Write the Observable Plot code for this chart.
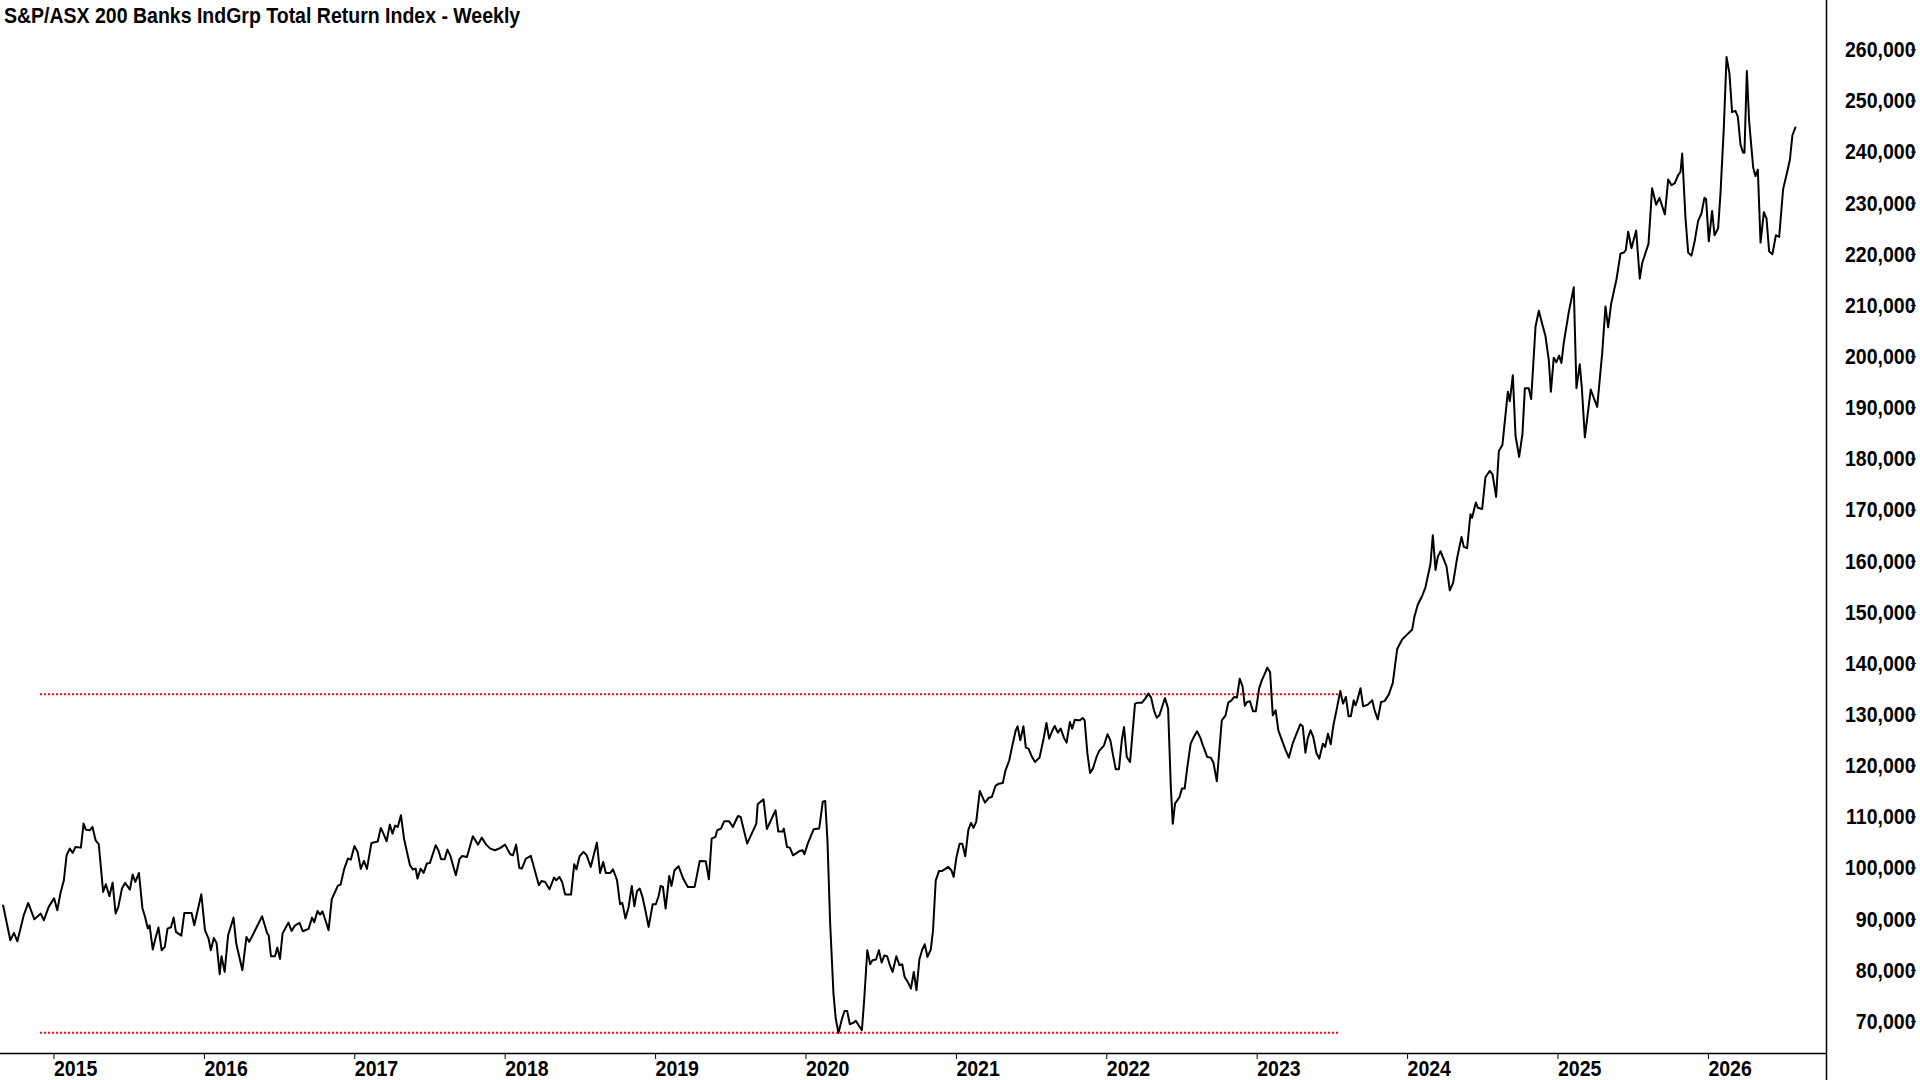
<!DOCTYPE html>
<html>
<head>
<meta charset="utf-8">
<script src="https://cdn.jsdelivr.net/npm/d3@7"></script>
<script src="https://cdn.jsdelivr.net/npm/@observablehq/plot@0.6"></script>
<style>
  html, body { margin: 0; padding: 0; background: #fff; }
  #wrap { position: relative; width: 1920px; height: 1080px; overflow: hidden; }
  #title { position: absolute; left: 4px; top: 4px; line-height: 1; font-size: 19.5px; font-weight: bold;
           font-family: 'Liberation Sans', Arial, sans-serif; color: #000; white-space: nowrap; z-index: 2;
           transform: scale(1, 1.17); transform-origin: 0 0; }
  #chart { position: absolute; left: 0; top: 0; }
</style>
</head>
<body>
<div id="wrap">
  <div id="title">S&amp;P/ASX 200 Banks IndGrp Total Return Index - Weekly</div>
  <div id="chart"></div>
</div>
<script>
// Weekly closes, [decimal year, index level in thousands]
const seg2014to2019 = [
[2014.675,92.67],[2014.723,85.89],[2014.747,87.32],[2014.770,85.69],[2014.812,90.78],[2014.842,93.19],[2014.883,89.99],[2014.925,91.10],[2014.946,89.80],[2014.978,92.41],
[2015.014,94.10],[2015.035,91.75],[2015.058,95.34],[2015.079,97.62],[2015.097,102.50],[2015.118,103.81],[2015.138,102.96],[2015.156,104.13],[2015.192,104.00],[2015.210,108.70],
[2015.225,107.52],[2015.251,107.39],[2015.269,108.04],[2015.290,105.44],[2015.311,104.66],[2015.340,95.34],[2015.358,96.84],[2015.382,94.49],[2015.403,97.16],[2015.423,91.10],
[2015.441,92.41],[2015.465,95.99],[2015.486,97.10],[2015.518,95.79],[2015.536,98.73],[2015.554,97.29],[2015.578,99.05],[2015.601,92.21],[2015.619,90.45],[2015.637,88.17],
[2015.649,88.82],[2015.670,84.07],[2015.690,86.54],[2015.708,88.37],[2015.729,83.94],[2015.750,84.59],[2015.768,88.17],[2015.791,88.43],[2015.809,90.32],[2015.824,87.52],
[2015.860,86.80],[2015.880,91.23],[2015.928,91.23],[2015.946,88.82],[2015.993,94.88],[2016.017,87.85],[2016.041,86.22],[2016.056,83.94],[2016.076,86.35],[2016.094,85.37],
[2016.115,79.24],[2016.127,82.76],[2016.148,79.70],[2016.171,86.87],[2016.207,90.32],[2016.225,85.24],[2016.266,80.03],[2016.293,86.54],[2016.311,85.57],[2016.334,86.87],
[2016.397,90.58],[2016.430,87.32],[2016.441,86.80],[2016.456,82.76],[2016.483,82.76],[2016.498,84.46],[2016.516,82.24],[2016.533,87.19],[2016.572,89.34],[2016.593,87.72],
[2016.617,88.82],[2016.646,89.28],[2016.667,87.65],[2016.706,88.11],[2016.729,90.32],[2016.744,89.41],[2016.765,91.62],[2016.783,90.91],[2016.798,91.56],[2016.818,89.80],
[2016.839,87.85],[2016.860,93.90],[2016.901,96.58],[2016.919,96.77],[2016.943,99.84],[2016.967,101.86],[2016.987,101.66],[2017.011,104.33],[2017.032,103.16],[2017.053,99.84],
[2017.074,101.40],[2017.094,99.84],[2017.124,104.92],[2017.166,105.18],[2017.186,107.85],[2017.204,106.74],[2017.225,105.24],[2017.246,108.50],[2017.264,106.74],[2017.281,108.31],
[2017.299,108.04],[2017.320,110.33],[2017.341,105.70],[2017.380,100.55],[2017.400,99.71],[2017.418,99.90],[2017.430,97.94],[2017.451,99.90],[2017.471,99.05],[2017.492,100.88],
[2017.513,101.01],[2017.551,104.46],[2017.569,103.48],[2017.587,101.73],[2017.611,101.73],[2017.629,103.61],[2017.649,102.38],[2017.685,98.60],[2017.709,101.73],[2017.727,102.38],
[2017.759,102.18],[2017.798,106.22],[2017.833,104.59],[2017.857,105.96],[2017.887,104.59],[2017.914,103.81],[2017.946,103.48],[2017.982,103.94],[2018.012,104.59],[2018.047,102.70],
[2018.065,102.50],[2018.086,104.59],[2018.107,100.03],[2018.124,99.90],[2018.151,101.86],[2018.184,102.38],[2018.237,96.64],[2018.255,97.49],[2018.279,97.29],[2018.308,95.86],
[2018.338,98.14],[2018.353,97.62],[2018.374,98.27],[2018.392,97.29],[2018.412,94.82],[2018.451,94.82],[2018.472,100.75],[2018.487,99.77],[2018.508,102.31],[2018.534,103.16],
[2018.555,102.50],[2018.582,100.23],[2018.623,104.98],[2018.644,99.05],[2018.665,101.20],[2018.682,99.05],[2018.712,99.05],[2018.730,99.77],[2018.757,97.62],[2018.777,92.93],
[2018.792,93.19],[2018.813,90.13],[2018.834,92.41],[2018.855,96.51],[2018.872,92.54],[2018.890,95.53],[2018.908,95.99],[2018.926,94.36],[2018.943,92.08],[2018.967,88.50],
[2018.994,92.93],[2019.015,92.93],[2019.033,94.49],[2019.047,96.51],[2019.062,96.32],[2019.080,92.08],[2019.104,98.47],[2019.119,96.51],[2019.139,99.57],[2019.166,100.36],
[2019.199,97.81],[2019.228,96.32],[2019.273,96.32]
];
const seg2019to2023 = [
[2019.307,101.40],[2019.347,101.33],[2019.368,97.81],[2019.386,105.76],[2019.411,106.09],[2019.423,107.39],[2019.448,107.72],[2019.469,109.15],[2019.502,109.15],[2019.527,108.04],
[2019.561,110.19],[2019.579,110.00],[2019.622,104.78],[2019.683,108.69],[2019.692,112.47],[2019.731,113.45],[2019.753,107.65],[2019.811,111.30],[2019.829,107.13],[2019.857,107.13],
[2019.866,107.72],[2019.887,104.13],[2019.906,104.00],[2019.927,102.50],[2019.967,103.28],[2019.991,103.48],[2020.003,102.70],[2020.025,104.78],[2020.064,107.58],[2020.101,107.72],
[2020.125,113.00],[2020.141,113.13],[2020.156,105.44],[2020.174,89.15],[2020.196,75.46],[2020.211,70.58],[2020.229,67.77],[2020.250,70.25],[2020.269,72.07],[2020.287,72.07],
[2020.305,69.47],[2020.327,69.73],[2020.345,70.12],[2020.363,69.27],[2020.385,68.29],[2020.400,74.16],[2020.421,83.93],[2020.440,81.19],[2020.455,81.98],[2020.479,82.11],
[2020.498,83.93],[2020.516,81.52],[2020.534,82.89],[2020.553,82.76],[2020.571,81.00],[2020.589,79.70],[2020.614,82.76],[2020.635,81.00],[2020.653,81.19],[2020.669,78.72],
[2020.690,77.74],[2020.711,76.44],[2020.730,79.70],[2020.748,76.11],[2020.767,82.11],[2020.785,83.93],[2020.803,85.10],[2020.821,82.63],[2020.843,84.06],[2020.858,87.84],
[2020.876,97.61],[2020.898,99.44],[2020.919,99.44],[2020.959,100.22],[2020.980,99.57],[2020.995,98.27],[2021.014,102.18],[2021.035,104.78],[2021.053,104.78],[2021.072,102.31],
[2021.093,107.52],[2021.111,108.82],[2021.127,107.85],[2021.145,109.02],[2021.169,115.08],[2021.203,112.80],[2021.230,113.77],[2021.249,113.91],[2021.273,116.06],[2021.295,116.51],
[2021.322,116.65],[2021.340,119.12],[2021.365,121.08],[2021.383,123.68],[2021.408,126.94],[2021.420,127.72],[2021.438,124.98],[2021.459,127.72],[2021.475,123.55],[2021.493,123.36],
[2021.514,121.86],[2021.536,120.75],[2021.566,121.60],[2021.591,124.98],[2021.612,128.37],[2021.630,125.31],[2021.652,126.94],[2021.667,127.79],[2021.688,126.48],[2021.707,127.27],
[2021.728,125.50],[2021.746,124.53],[2021.768,128.57],[2021.783,127.27],[2021.801,129.02],[2021.823,128.90],[2021.835,128.90],[2021.853,129.35],[2021.866,128.90],[2021.884,122.51],
[2021.902,118.60],[2021.921,119.45],[2021.945,121.73],[2021.963,122.90],[2021.994,123.94],[2022.018,126.16],[2022.037,124.98],[2022.055,122.05],[2022.073,119.32],[2022.094,119.32],
[2022.113,124.98],[2022.128,127.59],[2022.146,121.73],[2022.168,120.75],[2022.201,132.15],[2022.223,132.35],[2022.247,132.35],[2022.269,133.13],[2022.290,134.11],[2022.308,133.33],
[2022.327,130.85],[2022.345,129.42],[2022.363,129.87],[2022.381,131.50],[2022.400,133.26],[2022.421,131.18],[2022.439,115.86],[2022.452,108.69],[2022.467,112.61],[2022.497,113.91],
[2022.513,115.54],[2022.531,115.54],[2022.549,119.77],[2022.571,124.33],[2022.592,125.64],[2022.613,126.75],[2022.635,125.51],[2022.656,123.68],[2022.681,121.73],[2022.705,121.60],
[2022.723,120.55],[2022.745,116.97],[2022.757,121.40],[2022.778,128.90],[2022.803,129.87],[2022.821,132.35],[2022.842,132.80],[2022.861,133.46],[2022.879,133.33],[2022.897,137.04],
[2022.916,135.54],[2022.931,131.76],[2022.946,132.48],[2022.965,132.61],[2022.986,130.65],[2023.004,130.65],[2023.026,135.09],[2023.044,136.71],[2023.062,137.89],[2023.081,139.19],
[2023.099,138.28],[2023.117,129.87],[2023.136,130.85],[2023.154,126.94],[2023.178,124.98],[2023.203,123.03],[2023.224,121.60],[2023.249,124.33],[2023.270,125.96],[2023.300,128.11],
[2023.316,127.72],[2023.334,122.57],[2023.349,125.31],[2023.368,126.94],[2023.386,125.64],[2023.407,122.51],[2023.426,121.40],[2023.450,124.33],[2023.465,123.68],[2023.484,126.29],
[2023.502,124.20],[2023.520,127.92],[2023.545,131.50],[2023.566,134.63],[2023.584,132.15],[2023.603,133.46],[2023.621,129.68],[2023.636,129.68],[2023.655,132.80],[2023.667,131.83],
[2023.679,132.80]
];
const seg2023to2026 = [
[2023.700,135.18],[2023.718,131.62],[2023.749,131.96],[2023.778,132.81],[2023.793,130.94],[2023.815,129.07],[2023.837,132.47],[2023.860,132.64],[2023.888,133.91],[2023.915,136.21],
[2023.944,142.83],[2023.977,144.70],[2024.006,145.55],[2024.044,146.66],[2024.059,149.21],[2024.081,151.50],[2024.110,153.20],[2024.132,154.90],[2024.165,159.41],[2024.181,165.10],
[2024.199,158.30],[2024.214,160.85],[2024.232,161.96],[2024.272,158.98],[2024.294,154.31],[2024.316,155.75],[2024.343,160.68],[2024.372,164.76],[2024.387,162.81],[2024.409,162.55],
[2024.431,169.18],[2024.442,168.50],[2024.467,171.48],[2024.480,170.46],[2024.509,170.20],[2024.531,176.41],[2024.560,177.68],[2024.578,177.00],[2024.602,172.58],[2024.620,181.50],
[2024.644,182.78],[2024.680,193.15],[2024.693,191.28],[2024.713,196.38],[2024.731,184.48],[2024.755,180.40],[2024.777,184.90],[2024.793,193.83],[2024.819,193.83],[2024.835,191.70],
[2024.864,205.90],[2024.886,208.96],[2024.908,206.41],[2024.930,204.03],[2024.952,199.35],[2024.966,193.15],[2024.985,199.78],[2025.003,198.93],[2025.021,200.20],[2025.036,198.76],
[2025.052,202.75],[2025.085,208.70],[2025.118,213.55],[2025.136,193.83],[2025.158,198.50],[2025.172,193.83],[2025.192,184.22],[2025.231,193.57],[2025.251,191.96],[2025.274,190.17],
[2025.307,200.63],[2025.329,209.81],[2025.347,205.73],[2025.367,210.40],[2025.402,215.08],[2025.429,220.17],[2025.451,220.34],[2025.464,220.85],[2025.480,224.42],[2025.502,221.19],
[2025.533,224.68],[2025.557,215.24],[2025.573,218.30],[2025.615,222.04],[2025.639,232.92],[2025.666,229.69],[2025.688,231.05],[2025.724,227.82],[2025.746,234.62],[2025.768,233.52],
[2025.790,233.94],[2025.812,235.47],[2025.828,236.15],[2025.839,239.72],[2025.861,227.14],[2025.879,220.34],[2025.901,219.75],[2025.923,222.72],[2025.945,226.55],[2025.967,227.99],
[2025.987,231.05],[2025.998,230.80],[2026.016,222.55],[2026.038,228.50],[2026.054,223.74],[2026.078,225.10],[2026.094,232.07],[2026.116,244.82],[2026.134,258.59],[2026.153,255.45],
[2026.171,247.80],[2026.193,248.05],[2026.209,246.95],[2026.227,241.42],[2026.244,239.89],[2026.253,239.89],[2026.269,255.87],[2026.284,246.10],[2026.311,237.00],[2026.326,235.30],
[2026.342,236.58],[2026.360,222.30],[2026.382,228.25],[2026.400,226.97],[2026.417,220.60],[2026.439,220.00],[2026.462,223.74],[2026.484,223.40],[2026.510,232.75],[2026.532,235.47],
[2026.555,238.45],[2026.572,243.29],[2026.592,244.82]
];

// Horizontal reference levels (red dotted): [level, from year, to year]
const refLevels = [[134000, 2014.924, 2023.567], [67800, 2014.924, 2023.567]];
const yTicks = d3.range(70000, 260001, 10000);
const xTicks = d3.range(2015, 2027);
const xDomain = [2014.6576, 2026.7986];
const yDomain = [63745, 269637];

const series = [...seg2014to2019, ...seg2019to2023, ...seg2023to2026].map(([t, v]) => ({t, v: v * 1000}));
const levels = refLevels.map(([v, t1, t2]) => ({v, t1, t2}));

const FONT = "'Liberation Sans', Arial, sans-serif";
const FS = 19.5;
const STRETCH = 1.17;

const chart = Plot.plot({
  width: 1920,
  height: 1080,
  marginLeft: 0,
  marginRight: 94,
  marginTop: 0,
  marginBottom: 27,
  style: {fontFamily: FONT, fontSize: FS + "px", fontWeight: "bold", color: "#000", background: "#fff", overflow: "visible"},
  x: {type: "linear", domain: xDomain},
  y: {type: "linear", domain: yDomain},
  marks: [
    Plot.ruleY(levels, {y: "v", x1: "t1", x2: "t2", stroke: "#ff0000", strokeWidth: 2, strokeDasharray: "2,2"}),
    Plot.line(series, {x: "t", y: "v", stroke: "#000", strokeWidth: 2}),
    Plot.ruleY([yDomain[0]], {stroke: "#000", strokeWidth: 1.5}),
    Plot.ruleX([xDomain[1]], {stroke: "#000", strokeWidth: 1.5, insetBottom: -27}),
    Plot.axisX({anchor: "bottom", ticks: xTicks, tickFormat: d => String(d), tickSize: 6, tickPadding: 0,
                textAnchor: "start", dx: 2, fontSize: FS, fontWeight: "bold", label: null, stroke: "#000"}),
    Plot.axisY({anchor: "right", ticks: yTicks, tickFormat: d3.format(","), tickSize: 5, tickPadding: 0,
                textAnchor: "end", dx: 84, fontSize: FS, fontWeight: "bold", label: null, stroke: "#000"})
  ]
});

// Tall glyphs as in the reference: stretch tick labels vertically about their anchor.
d3.select(chart).selectAll("g[aria-label$='tick label'] text").each(function () {
  const t = this.getAttribute("transform");
  if (t && /translate/.test(t)) this.setAttribute("transform", `${t} scale(1,${STRETCH})`);
});

document.getElementById("chart").appendChild(chart);
</script>
</body>
</html>
